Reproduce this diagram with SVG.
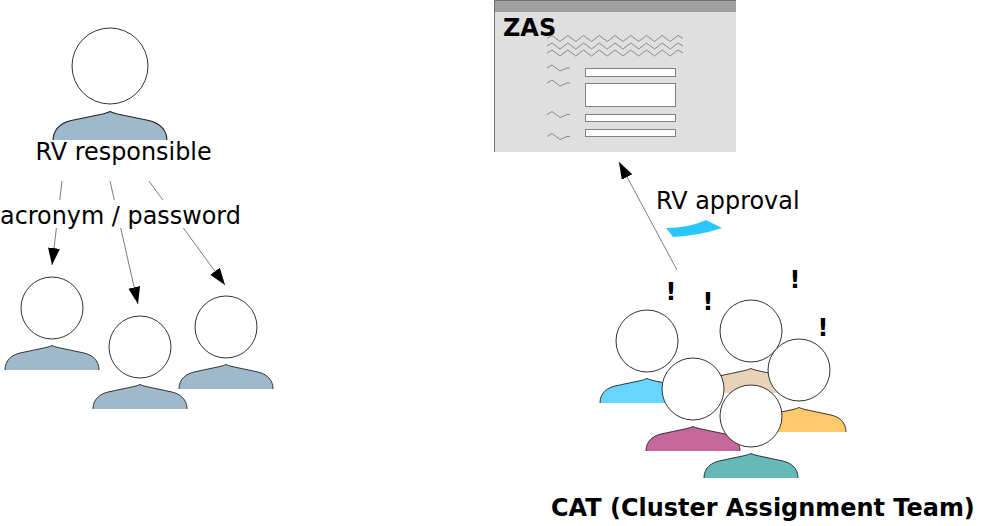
<svg xmlns="http://www.w3.org/2000/svg" xmlns:xlink="http://www.w3.org/1999/xlink" width="985" height="526" viewBox="0 0 985 526">
<style>
text{font-family:"DejaVu Sans",sans-serif;fill:#000}
.lbl{font-size:23.9px}
.bold{font-weight:bold;font-size:23.96px}
.head{fill:#fff;stroke:#333;stroke-width:1}
.conn{stroke:#444;stroke-width:.7;fill:none}
.sq{fill:none;stroke:#808080;stroke-width:.9}
.field{fill:#fff;stroke:#808080;stroke-width:1}
</style>
<defs>
<marker id="arrow" markerUnits="userSpaceOnUse" markerWidth="18" markerHeight="13" refX="17" refY="6" orient="auto"><path d="M0 0L17 6L0 12Z" fill="#000"/></marker>
<g id="bd">
<path stroke="none" d="M-47 62C-47 52-40 47-32 45L-6 39.500Q-2 38.500 0 37.500Q2 38.500 6 39.500L32 45C40 47 47 52 47 62Z"/>
<path fill="none" stroke="#222" stroke-width=".9" d="M-47 62C-47 52-40 47-32 45L-6 39.500Q-2 38.500 0 37.500Q2 38.500 6 39.500L32 45C40 47 47 52 47 62"/>
</g>
<path id="z3" d="M0 3L5 0L13 6L20.750 0L28.750 6L36.500 0L44.500 6L52.250 0L60.250 6L68 0L76 6L83.750 0L91.750 6L99.500 0L107.500 6L115.250 0L123.250 6L131 0L136 3"/>
<path id="z1" d="M0 3L5 0L13 6L20 3L23 3"/>
</defs>
<g id="zas">
<rect x="494" y="0" width="242" height="152" fill="#dfdfdf"/>
<rect x="494" y="0" width="242" height="12" fill="#a0a0a0"/>
<path d="M494.500 152V.5H736" fill="none" stroke="#707070"/>
<g class="sq">
<use xlink:href="#z3" x="547" y="35.500"/><use xlink:href="#z3" x="547" y="43"/><use xlink:href="#z3" x="547" y="50"/>
<use xlink:href="#z1" x="547" y="65"/><use xlink:href="#z1" x="547" y="80"/><use xlink:href="#z1" x="547" y="111.500"/><use xlink:href="#z1" x="547" y="133.500"/>
</g>
<rect class="field" x="585.500" y="68.500" width="90" height="8"/>
<rect class="field" x="585.500" y="83.500" width="90" height="23"/>
<rect class="field" x="585.500" y="114.500" width="90" height="7"/>
<rect class="field" x="585.500" y="129.500" width="90" height="7"/>
<text x="503" y="36" class="lbl bold">ZAS</text>
</g>
<g id="connectors">
<path class="conn" marker-end="url(#arrow)" d="M62 181L52 265"/>
<path class="conn" marker-end="url(#arrow)" d="M110 181L138 304"/>
<path class="conn" marker-end="url(#arrow)" d="M149 181L225 285"/>
<path class="conn" marker-end="url(#arrow)" d="M677 270L619 162"/>
</g>
<g id="rv-responsible">
<circle class="head" cx="110" cy="66" r="38"/>
<use xlink:href="#bd" fill="#9eb8cc" transform="translate(110 66) scale(1.213)"/>
<rect x="30" y="140" width="190" height="6" fill="#fff"/>
<text x="35.500" y="160" class="lbl">RV responsible</text>
</g>
<g id="password-label">
<rect x="0" y="200" width="241" height="28" fill="#fff"/>
<text x="0" y="224" class="lbl">acronym / password</text>
</g>
<g id="user-1"><circle class="head" cx="52" cy="308" r="31"/><use xlink:href="#bd" fill="#9eb8cc" x="52" y="308"/></g>
<g id="user-2"><circle class="head" cx="140" cy="347" r="31"/><use xlink:href="#bd" fill="#9eb8cc" x="140" y="347"/></g>
<g id="user-3"><circle class="head" cx="226" cy="327" r="31"/><use xlink:href="#bd" fill="#9eb8cc" x="226" y="327"/></g>
<g id="rv-approval">
<text x="656" y="209" class="lbl">RV approval</text>
<path d="M666 228Q688 228 706 220L722 228Q698 236 673 237Z" fill="#2ac7ff"/>
</g>
<g id="cat-blue"><use xlink:href="#bd" fill="#66d5ff" x="647" y="341"/><circle class="head" cx="647" cy="341" r="31"/></g>
<g id="cat-tan"><use xlink:href="#bd" fill="#e9d3b8" x="751" y="331"/><circle class="head" cx="751" cy="331" r="31"/></g>
<g id="cat-orange"><use xlink:href="#bd" fill="#ffc86b" x="799" y="370"/><circle class="head" cx="799" cy="370" r="31"/></g>
<g id="cat-magenta"><use xlink:href="#bd" fill="#c6689c" x="693" y="389"/><circle class="head" cx="693" cy="389" r="31"/></g>
<g id="cat-teal"><use xlink:href="#bd" fill="#66b9b9" x="751" y="416"/><circle class="head" cx="751" cy="416" r="31"/></g>
<g id="marks">
<text x="671" y="300" class="lbl bold" text-anchor="middle">!</text>
<text x="708" y="310" class="lbl bold" text-anchor="middle">!</text>
<text x="795" y="288" class="lbl bold" text-anchor="middle">!</text>
<text x="823" y="336" class="lbl bold" text-anchor="middle">!</text>
</g>
<text id="cat-label" x="551" y="516" class="lbl bold">CAT (Cluster Assignment Team)</text>
</svg>
